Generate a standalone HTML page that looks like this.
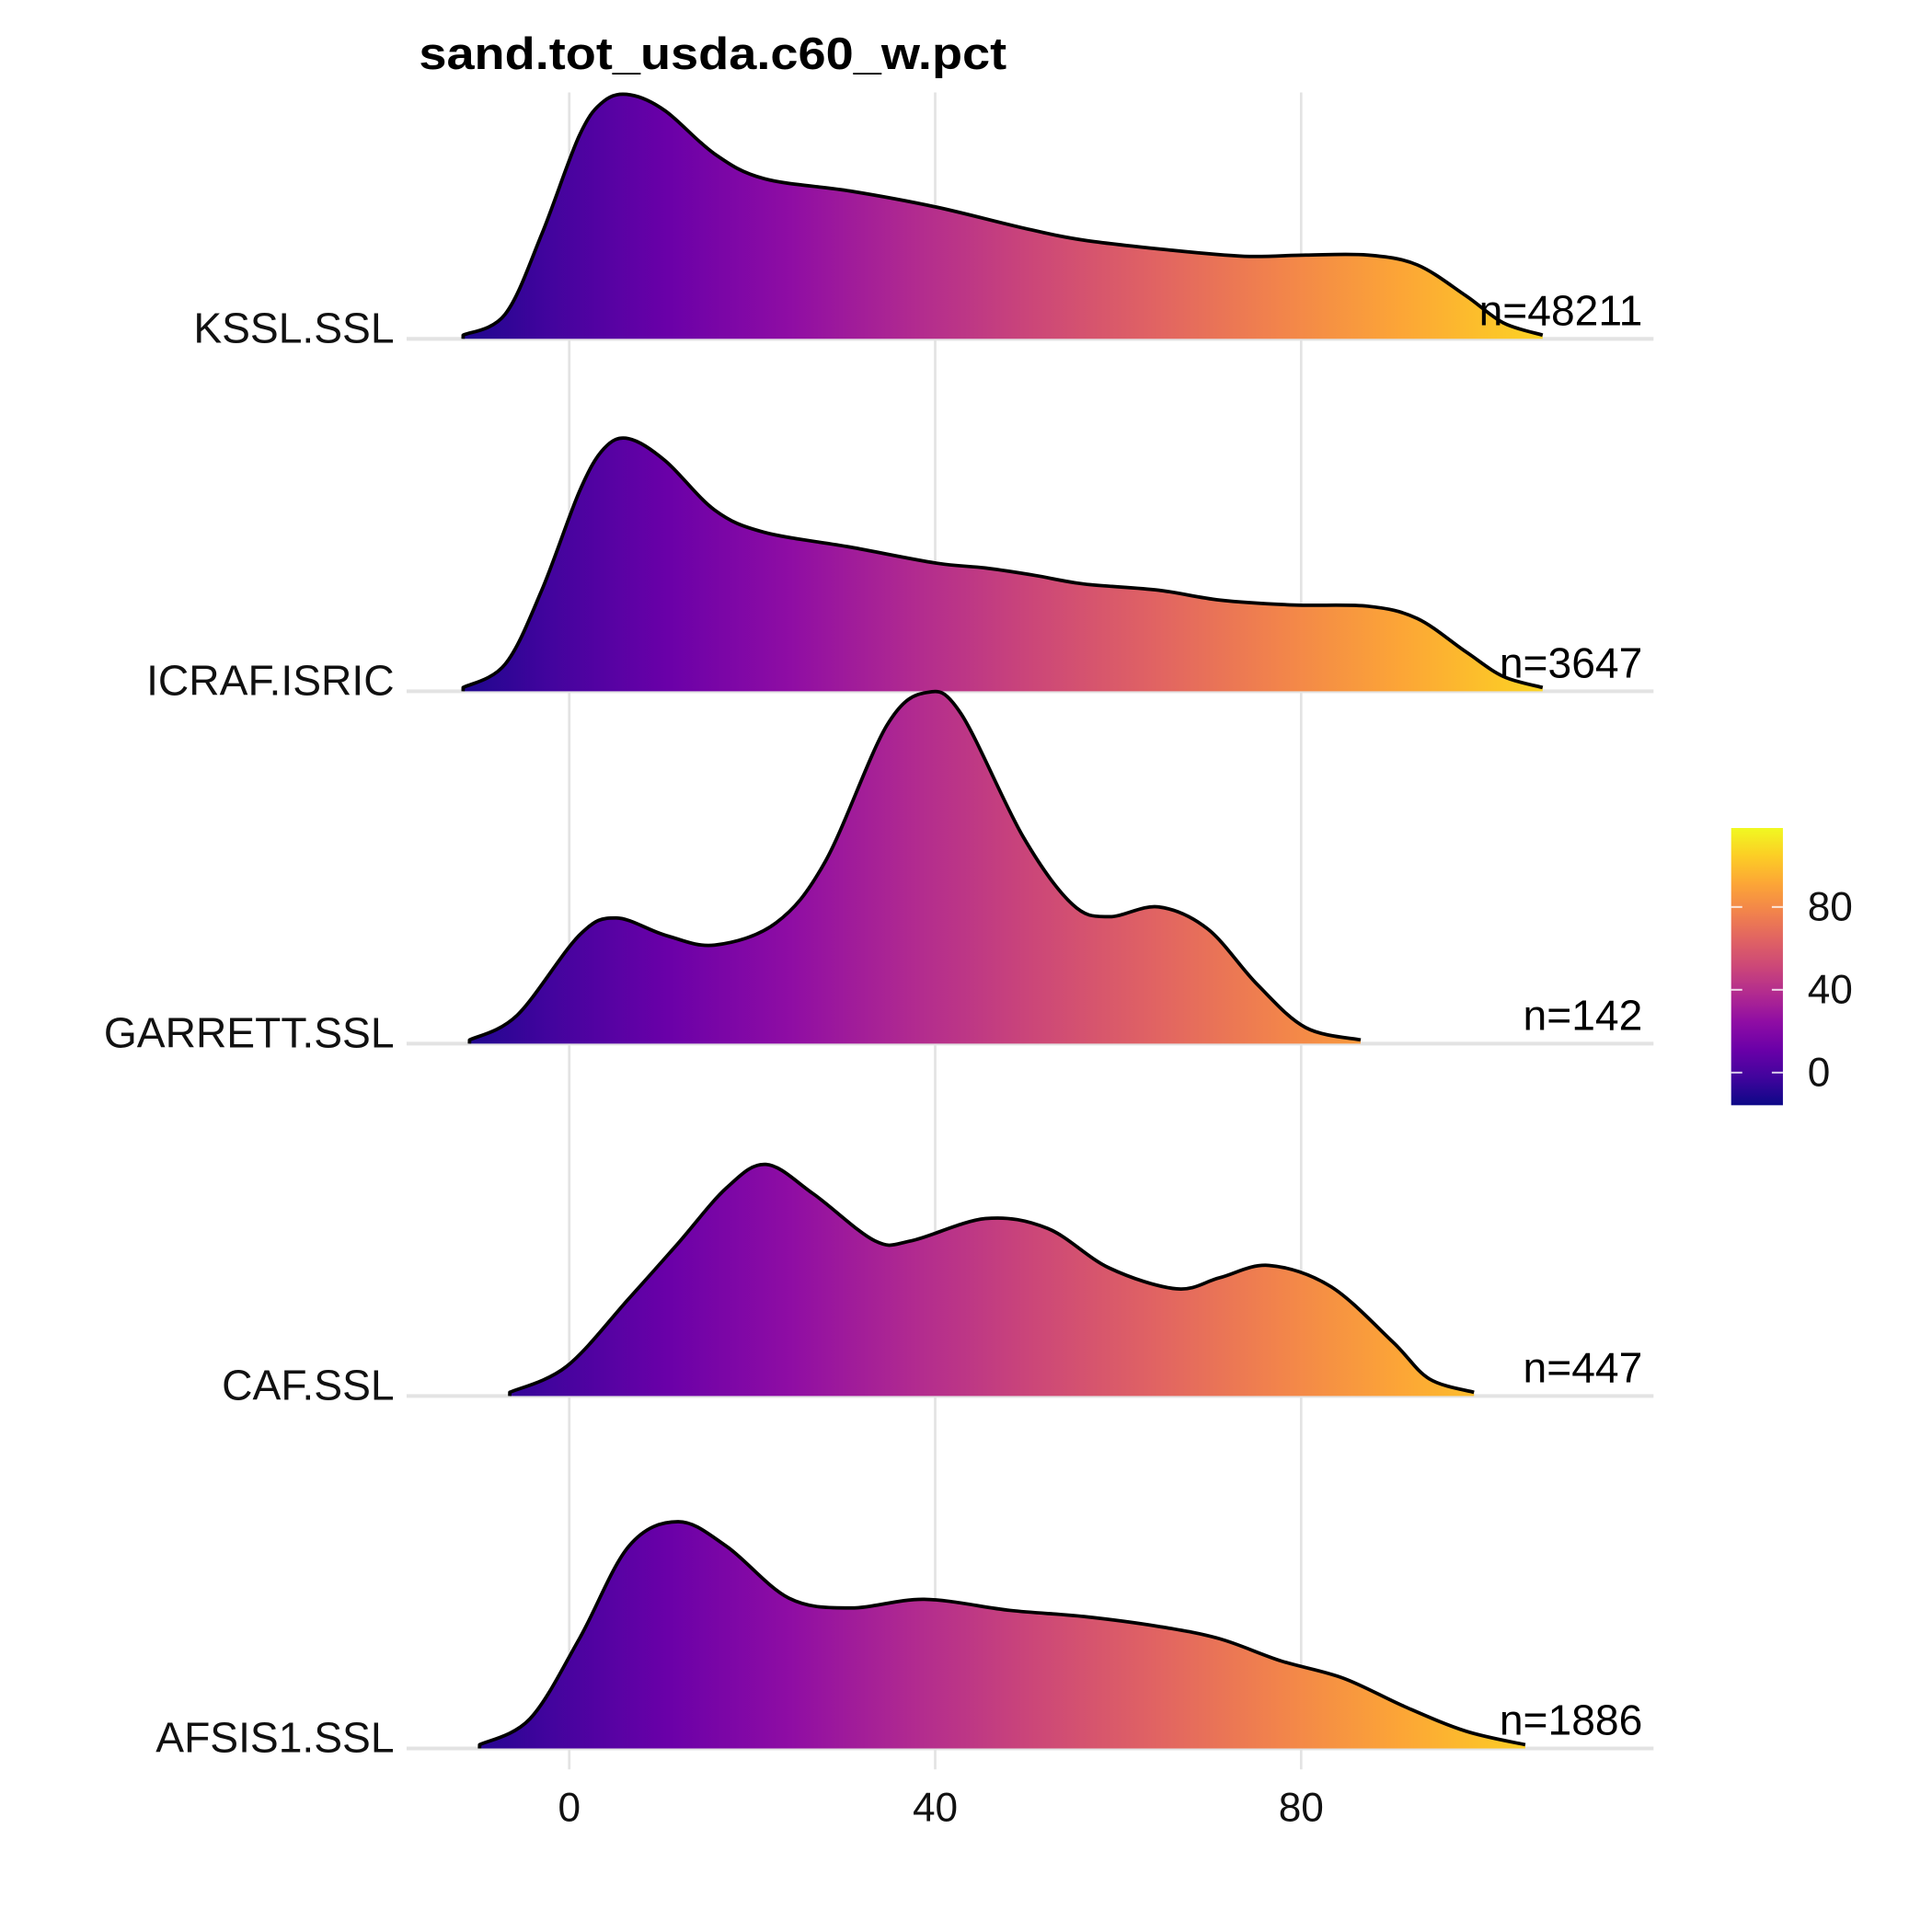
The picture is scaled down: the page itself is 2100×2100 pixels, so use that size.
<!DOCTYPE html>
<html><head><meta charset="utf-8"><style>
html,body{margin:0;padding:0;background:#fff;}
svg{display:block;font-family:"Liberation Sans",Arial,sans-serif;}
</style></head><body>
<svg id="chart" width="2100" height="2100" viewBox="0 0 1568 1568" xmlns="http://www.w3.org/2000/svg">
<defs>
<linearGradient id="plasma" gradientUnits="userSpaceOnUse" x1="343" y1="0" x2="1338" y2="0">
<stop offset="0" stop-color="#0d0887"/><stop offset="0.1" stop-color="#41049d"/><stop offset="0.2" stop-color="#6a00a8"/><stop offset="0.3" stop-color="#8f0da4"/><stop offset="0.4" stop-color="#b12a90"/><stop offset="0.5" stop-color="#cc4778"/><stop offset="0.6" stop-color="#e16462"/><stop offset="0.7" stop-color="#f2844b"/><stop offset="0.8" stop-color="#fca636"/><stop offset="0.9" stop-color="#fcce25"/><stop offset="1" stop-color="#f0f921"/>
</linearGradient>
<linearGradient id="plasmaV" x1="0" y1="1" x2="0" y2="0">
<stop offset="0" stop-color="#0d0887"/><stop offset="0.1" stop-color="#41049d"/><stop offset="0.2" stop-color="#6a00a8"/><stop offset="0.3" stop-color="#8f0da4"/><stop offset="0.4" stop-color="#b12a90"/><stop offset="0.5" stop-color="#cc4778"/><stop offset="0.6" stop-color="#e16462"/><stop offset="0.7" stop-color="#f2844b"/><stop offset="0.8" stop-color="#fca636"/><stop offset="0.9" stop-color="#fcce25"/><stop offset="1" stop-color="#f0f921"/>
</linearGradient>
</defs>
<text x="340" y="56" font-size="37" font-weight="bold" fill="#000" textLength="477" lengthAdjust="spacingAndGlyphs">sand.tot_usda.c60_w.pct</text>
<g id="grid"></g>
<g id="ridges"></g>
<g id="legend">
<rect x="1405" y="672" width="42" height="225" fill="url(#plasmaV)"/>
</g>
</svg>
<script>
const groups = ["KSSL.SSL","ICRAF.ISRIC","GARRETT.SSL","CAF.SSL","AFSIS1.SSL"];
const counts = ["n=48211","n=3647","n=142","n=447","n=1886"];
const xTicks = [0,40,80];
const legendTicks = [0,40,80];
const ksslX = [-11.6,-7.0,-3.0,1.1,3.8,6.7,10.5,15.9,21.3,30.7,40.1,49.6,56.3,65.7,73.8,80.5,87.3,92.7,98.0,102.1,106.4];
const ksslD = [3,20,85,165,193,198,185,150,130,120,107,90,80,72,67,68,68,60,35,13,3];
const icrafX = [-11.6,-7.0,-3.0,1.1,3.8,6.5,10.5,15.9,21.3,30.7,40.1,45.5,50.9,56.3,64.4,71.1,79.2,87.3,92.7,98.0,102.1,106.4];
const icrafD = [3,22,82,162,197,205,187,147,129,117,104,100,94,87,82,74,70,69,59,32,12,3];
const garrettX = [-10.9,-5.7,1.1,5.1,10.5,15.9,22.6,28.0,34.7,39.1,42.8,49.6,55.0,59.0,64.4,69.8,75.2,80.5,86.5];
const garrettD = [3,23,88,102,88,80,98,148,258,285,268,168,113,103,111,93,48,13,3];
const cafX = [-6.5,-0.3,6.5,11.9,17.2,21.5,26.7,33.4,37.4,45.5,52.3,59.0,66.4,71.1,76.5,83.2,90.0,94.0,98.9];
const cafD = [3,24,79,124,169,188,164,126,126,144,136,104,87,96,106,89,44,14,3];
const afsisX = [-9.8,-4.3,1.1,6.5,11.9,17.2,24.0,30.7,38.8,48.2,56.3,64.4,71.1,77.8,84.6,91.3,98.0,104.5];
const afsisD = [3,24,89,164,184,164,122,114,121,112,107,99,89,71,57,34,14,3];
const seriesX = [ksslX, icrafX, garrettX, cafX, afsisX];
const seriesD = [ksslD, icrafD, garrettD, cafD, afsisD];

const NS = "http://www.w3.org/2000/svg";
const xS = v => 462 + v * 7.425;
const baseY = i => 275 + i * 286.0;
const dS = d => d;
const legY = v => 870.5 - v * 1.68;

function mk(tag, attrs, parent) {
  const e = document.createElementNS(NS, tag);
  for (const k in attrs) e.setAttribute(k, attrs[k]);
  parent.appendChild(e);
  return e;
}
const grid = document.getElementById('grid');
const ridges = document.getElementById('ridges');
const legend = document.getElementById('legend');

xTicks.forEach(t => {
  const l = mk('line', {x1: xS(t), x2: xS(t), y1: 75, y2: 1436, stroke: '#e3e3e3', 'stroke-width': 2}, grid);
  
  
  const tx = mk('text', {x: xS(t), y: 1478, 'font-size': 33, 'text-anchor': 'middle', fill: '#111'}, grid);
  tx.textContent = t;
  
  
});

function smoothPath(pts) {
  let d = 'M' + pts[0][0] + ',' + pts[0][1];
  for (let i = 0; i < pts.length - 1; i++) {
    const p0 = pts[Math.max(0, i - 1)], p1 = pts[i], p2 = pts[i + 1], p3 = pts[Math.min(pts.length - 1, i + 2)];
    const c1x = p1[0] + (p2[0] - p0[0]) / 6, c1y = p1[1] + (p2[1] - p0[1]) / 6;
    const c2x = p2[0] - (p3[0] - p1[0]) / 6, c2y = p2[1] - (p3[1] - p1[1]) / 6;
    d += ' C' + c1x.toFixed(1) + ',' + c1y.toFixed(1) + ' ' + c2x.toFixed(1) + ',' + c2y.toFixed(1) + ' ' + p2[0].toFixed(1) + ',' + p2[1].toFixed(1);
  }
  return d;
}

groups.forEach((g, i) => {
  const by = baseY(i);
  const bl = mk('line', {x1: 330, x2: 1342, y1: by, y2: by, stroke: '#e3e3e3', 'stroke-width': 3}, grid);
  
  
  const lab = mk('text', {x: 320, y: by + 3, 'font-size': 34.5, 'text-anchor': 'end', fill: '#111'}, grid);
  lab.textContent = g;
  
  

  const xs = seriesX[i], ds = seriesD[i];
  const pts = xs.map((v, k) => [xS(v), by - dS(ds[k])]);
  const top = smoothPath(pts);
  const x0 = xS(xs[0]), x1 = xS(xs[xs.length - 1]);
  const fill = mk('path', {d: top + ' L' + x1 + ',' + by + ' L' + x0 + ',' + by + ' Z', fill: 'url(#plasma)'}, ridges);
  
  
  const line = mk('path', {d: 'M' + x0 + ',' + by + ' L' + top.slice(1), fill: 'none', stroke: '#000', 'stroke-width': 2.8, 'stroke-linejoin': 'round'}, ridges);
  
  
  const n = mk('text', {x: 1333, y: by - 11, 'font-size': 34.5, 'text-anchor': 'end', fill: '#000'}, ridges);
  n.textContent = counts[i];
  
  
});

legendTicks.forEach(t => {
  const y = legY(t);
  const a = mk('line', {x1: 1405, x2: 1414, y1: y, y2: y, stroke: '#fff', 'stroke-width': 1.5, opacity: 0.8}, legend);
  
  
  const b = mk('line', {x1: 1438, x2: 1447, y1: y, y2: y, stroke: '#fff', 'stroke-width': 1.5, opacity: 0.8}, legend);
  
  
  const tx = mk('text', {x: 1467, y: y + 11, 'font-size': 33, fill: '#111'}, legend);
  tx.textContent = t;
  
  
});
</script>
</body></html>
